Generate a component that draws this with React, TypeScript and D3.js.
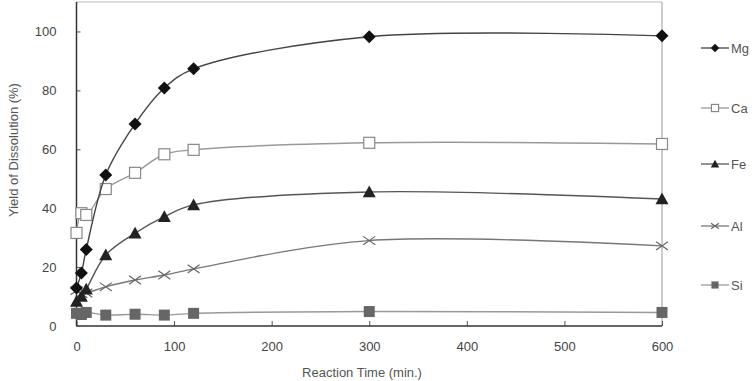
import { useEffect, useRef } from "react"
import * as d3 from "d3"

const times = [0, 5, 10, 30, 60, 90, 120, 300, 600]
const mgValues = [12.9, 18, 26, 51.3, 68.6, 80.8, 87.3, 98.2, 98.5]
const caValues = [31.6, 38.3, 37.7, 46.5, 52, 58.3, 59.8, 62.2, 61.8]
const feValues = [8.3, 10, 12.5, 24.1, 31.5, 37.1, 41.1, 45.5, 43.1]
const alValues = [12, 11, 11.2, 13.3, 15.6, 17.3, 19.4, 29, 27.2]
const siValues = [4.3, 3.9, 4.6, 3.7, 4, 3.7, 4.3, 4.9, 4.6]
const seriesNames = ["Mg", "Ca", "Fe", "Al", "Si"]
const xTicks = [0, 100, 200, 300, 400, 500, 600]
const yTicks = [0, 20, 40, 60, 80, 100]

const W = 755
const H = 381

export default function App() {
  const svgRef = useRef<SVGSVGElement>(null)

  useEffect(() => {
    if (!svgRef.current) return
    const svg = d3.select(svgRef.current)
    svg.selectAll("*").remove()

    const x = d3.scaleLinear().domain([0, 600]).range([76.5, 662])
    const y = d3.scaleLinear().domain([0, 110]).range([326, 2])

    const font = "Arial, 'Liberation Sans', sans-serif"
    const g = svg.append("g")

    // frame (top / right light)
    g.append("line").attr("x1", x(0)).attr("x2", x(600)).attr("y1", y(110)).attr("y2", y(110))
      .attr("stroke", "#bbb").attr("stroke-width", 1.2)
    g.append("line").attr("x1", x(600)).attr("x2", x(600)).attr("y1", y(110)).attr("y2", y(0))
      .attr("stroke", "#aaa").attr("stroke-width", 1.2)

    // axes
    const xAxis = d3.axisBottom(x).tickValues(xTicks).tickSize(-5).tickPadding(16)
    const ax = g.append("g").attr("transform", `translate(0,${y(0)})`).call(xAxis)
    ax.select(".domain").remove()
    ax.selectAll(".tick line").attr("stroke", "#555")
    ax.selectAll("text").attr("fill", "#444").attr("font-size", 13).attr("font-family", font)
    g.append("line").attr("x1", x(0)).attr("x2", x(600)).attr("y1", y(0)).attr("y2", y(0))
      .attr("stroke", "#333").attr("stroke-width", 1.5)

    const yAxis = d3.axisLeft(y).tickValues(yTicks).tickSize(-4).tickPadding(20)
    const ay = g.append("g").attr("transform", `translate(${x(0)},0)`).call(yAxis)
    ay.select(".domain").remove()
    ay.selectAll(".tick line").attr("stroke", "#555")
    ay.selectAll("text").attr("fill", "#444").attr("font-size", 13).attr("font-family", font)
    g.append("line").attr("x1", x(0)).attr("x2", x(0)).attr("y1", y(110)).attr("y2", y(0))
      .attr("stroke", "#333").attr("stroke-width", 1.5)

    g.append("text").attr("x", 362).attr("y", 377).attr("text-anchor", "middle")
      .attr("font-size", 13).attr("fill", "#555").attr("font-family", font)
      .text("Reaction Time (min.)")
    g.append("text").attr("transform", `translate(18,150) rotate(-90)`).attr("text-anchor", "middle")
      .attr("font-size", 13).attr("fill", "#555").attr("font-family", font)
      .text("Yield of Dissolution (%)")

    const all = [mgValues, caValues, feValues, alValues, siValues]
    const lineColors = ["#444", "#999", "#555", "#777", "#999"]
    const line = d3.line<number>()
      .x((_, i) => x(times[i]))
      .y(d => y(d))
      .curve(d3.curveCatmullRom.alpha(0.5))

    const drawMarker = (sel: d3.Selection<SVGGElement, unknown, null, undefined>, k: number, px: number, py: number, s = 1) => {
      if (k === 0) {
        const r = 6.5 * s
        sel.append("path").attr("d", `M${px},${py - r}L${px + r},${py}L${px},${py + r}L${px - r},${py}Z`).attr("fill", "#111")
      } else if (k === 1) {
        const r = 5.5 * s
        sel.append("rect").attr("x", px - r).attr("y", py - r).attr("width", 2 * r).attr("height", 2 * r)
          .attr("fill", "white").attr("stroke", "#888").attr("stroke-width", 1.2)
      } else if (k === 2) {
        const r = 6.5 * s
        sel.append("path").attr("d", `M${px},${py - r}L${px + r},${py + r * 0.8}L${px - r},${py + r * 0.8}Z`).attr("fill", "#222")
      } else if (k === 3) {
        const r = 6 * s
        sel.append("path").attr("d", `M${px - r},${py - r * 0.7}L${px + r},${py + r * 0.7}M${px + r},${py - r * 0.7}L${px - r},${py + r * 0.7}`)
          .attr("stroke", "#666").attr("stroke-width", 1.2).attr("fill", "none")
      } else {
        const r = 5.5 * s
        sel.append("rect").attr("x", px - r).attr("y", py - r).attr("width", 2 * r).attr("height", 2 * r).attr("fill", "#666")
      }
    }

    // draw in reverse so Mg is on top
    for (let k = all.length - 1; k >= 0; k--) {
      const vals = all[k]
      g.append("path").attr("d", line(vals)).attr("fill", "none")
        .attr("stroke", lineColors[k]).attr("stroke-width", 1.4)
      const mg = g.append("g")
      vals.forEach((v, i) => drawMarker(mg, k, x(times[i]), y(v)))
    }

    // legend
    const legendY = [48, 108, 164, 226, 285]
    seriesNames.forEach((name, k) => {
      const lg = g.append("g")
      lg.append("line").attr("x1", 701).attr("x2", 729).attr("y1", legendY[k]).attr("y2", legendY[k])
        .attr("stroke", lineColors[k]).attr("stroke-width", 1.3)
      drawMarker(lg, k, 715, legendY[k], 0.65)
      lg.append("text").attr("x", 731).attr("y", legendY[k] + 5).attr("font-size", 13)
        .attr("fill", "#555").attr("font-family", font).text(name)
    })
  }, [])

  return (
    <div style={{ position: "fixed", left: 0, top: 0, width: W, height: H, background: "white" }}>
      <svg ref={svgRef} width={W} height={H}></svg>
    </div>
  )
}
